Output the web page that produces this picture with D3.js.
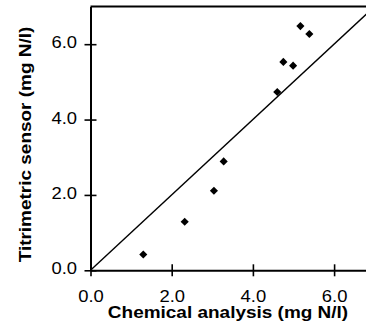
<!DOCTYPE html>
<html>
<head>
<meta charset="utf-8">
<script src="https://cdn.jsdelivr.net/npm/d3@7"></script>
<style>
  html, body { margin: 0; padding: 0; background: #fff; }
  svg { display: block; }
  text { font-family: "Liberation Sans", Arial, Helvetica, sans-serif; fill: #000; }
</style>
</head>
<body>
<svg id="chart" width="366" height="331"></svg>
<script>
// Nitrogen concentration: chemical analysis vs. titrimetric sensor
const chemical = [1.30, 2.32, 3.04, 3.28, 4.60, 4.75, 4.99, 5.17, 5.39];
const sensor   = [0.42, 1.29, 2.11, 2.89, 4.73, 5.53, 5.43, 6.48, 6.27];
const xTicks = [0, 2, 4, 6];
const yTicks = [0, 2, 4, 6];
const xTitle = "Chemical analysis (mg N/l)";
const yTitle = "Titrimetric sensor (mg N/l)";
const identity = [0, 7];

const svg = d3.select("#chart");
const plotL = 90.5, plotT = 6.5, plotR = 374.7, plotB = 270.3;
const stretch = 1.13; // wide letterforms

const x = d3.scaleLinear().domain([0, 7]).range([plotL, plotR]);
const y = d3.scaleLinear().domain([0, 7]).range([plotB, plotT]);
const fmt = d3.format(".1f");

// frame: top and right edges
svg.append("path")
  .attr("d", `M${plotL},${plotT}H${plotR}V${plotB}`)
  .attr("fill", "none").attr("stroke", "#000").attr("stroke-width", 2);

// 1:1 line
svg.append("line")
  .attr("x1", x(identity[0])).attr("y1", y(identity[0]))
  .attr("x2", x(identity[1])).attr("y2", y(identity[1]))
  .attr("stroke", "#000").attr("stroke-width", 1.4);

// x axis
const gx = svg.append("g")
  .attr("transform", `translate(0,${plotB})`)
  .call(d3.axisBottom(x).tickValues(xTicks).tickFormat(fmt).tickSize(6).tickSizeOuter(0));
gx.select(".domain").attr("stroke-width", 2);
gx.selectAll(".tick line").attr("y1", -6).attr("stroke-width", 1.6);
gx.selectAll(".tick text")
  .attr("y", 32).attr("dy", null)
  .attr("transform", `scale(${stretch},1)`)
  .style("font-size", "16.3px").style("font-family", "'Liberation Sans', Arial, sans-serif");

// y axis
const gy = svg.append("g")
  .attr("transform", `translate(${plotL},0)`)
  .call(d3.axisLeft(y).tickValues(yTicks).tickFormat(fmt).tickSize(6).tickSizeOuter(0));
gy.select(".domain").attr("stroke-width", 2);
gy.selectAll(".tick line").attr("x1", 6).attr("stroke-width", 1.6);
gy.selectAll(".tick text")
  .attr("x", -13.5 / stretch).attr("dy", null).attr("y", 3.6)
  .attr("transform", `scale(${stretch},1)`)
  .style("font-size", "16.3px").style("font-family", "'Liberation Sans', Arial, sans-serif");

// axis titles
svg.append("text")
  .attr("transform", `translate(228,318) scale(${stretch},1)`)
  .attr("text-anchor", "middle")
  .style("font-size", "16.8px").style("font-weight", "bold")
  .text(xTitle);

svg.append("text")
  .attr("transform", `translate(30.7,144.5) rotate(-90) scale(${stretch},1)`)
  .attr("text-anchor", "middle")
  .style("font-size", "16.8px").style("font-weight", "bold")
  .text(yTitle);

// data points as filled diamonds
const diamond = d3.symbol().type(d3.symbolDiamond2).size(42);
svg.append("g").selectAll("path")
  .data(chemical.map((c, i) => [c, sensor[i]]))
  .join("path")
  .attr("transform", d => `translate(${x(d[0])},${y(d[1])})`)
  .attr("d", diamond)
  .attr("fill", "#000");
</script>
</body>
</html>
